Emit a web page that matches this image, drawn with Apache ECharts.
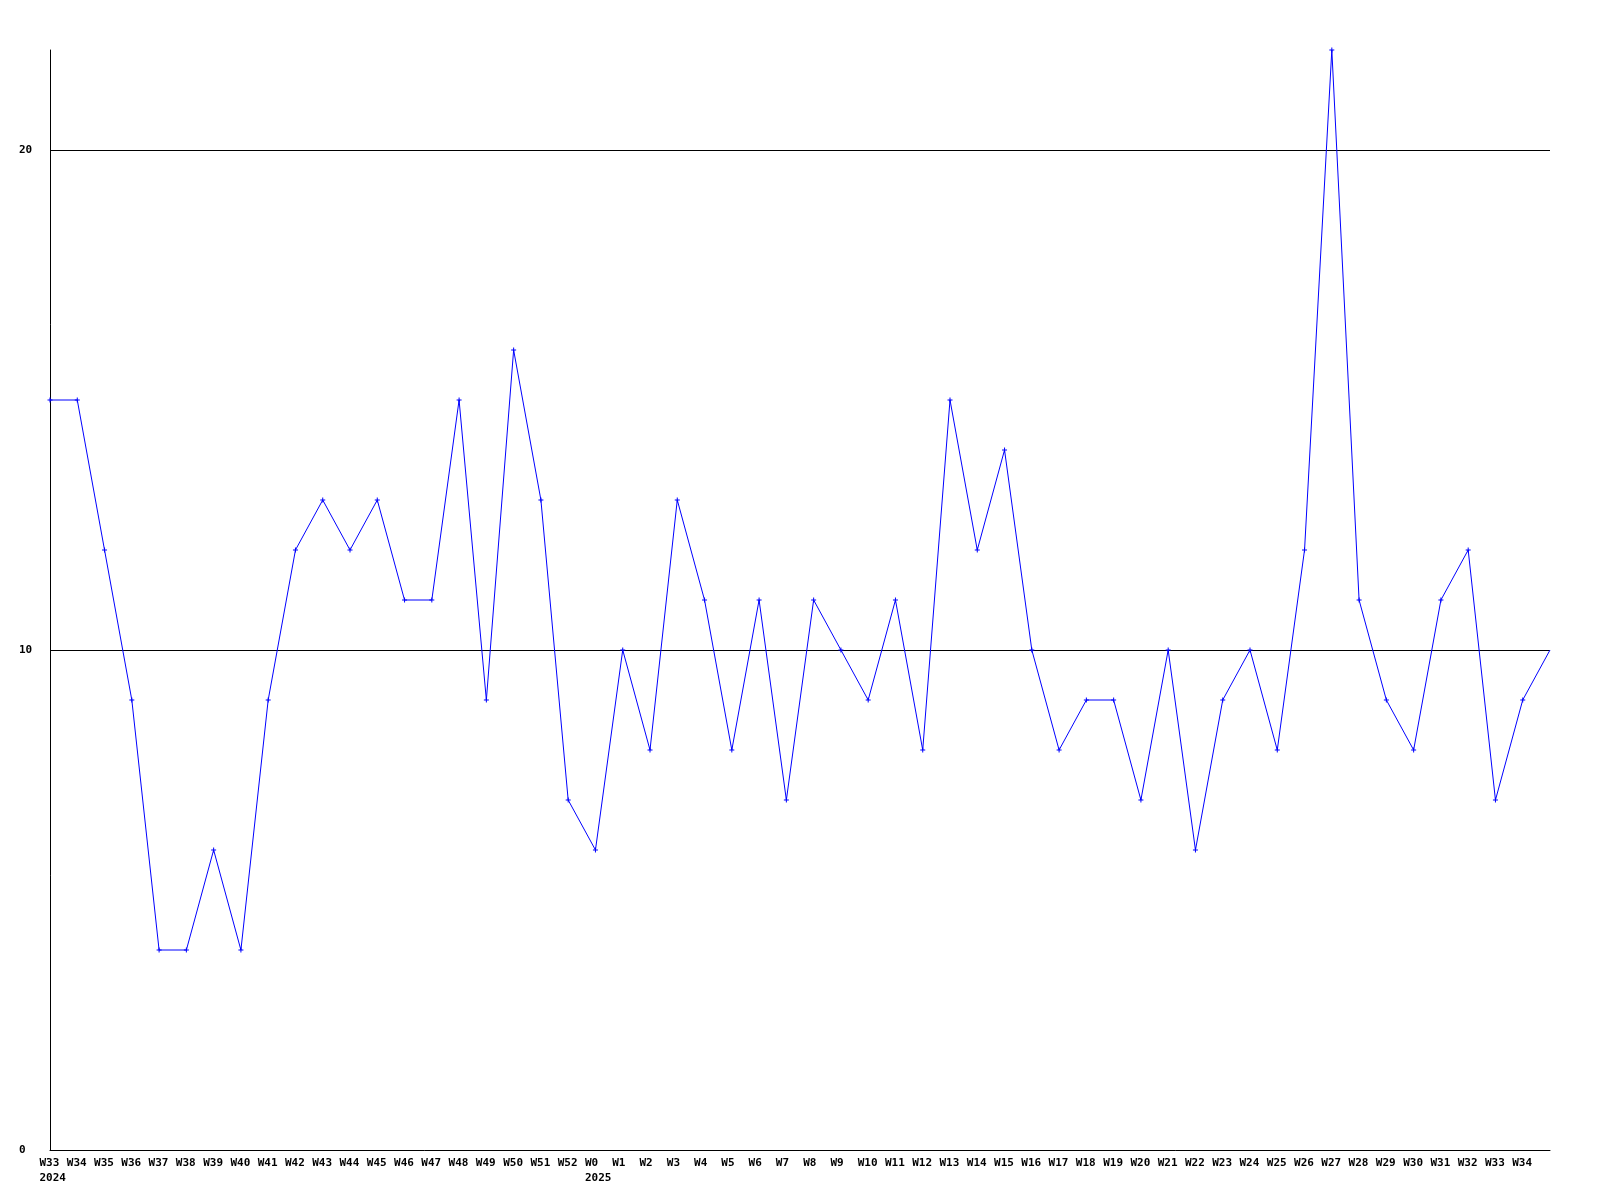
<!DOCTYPE html>
<html>
<head>
<meta charset="utf-8">
<script src="https://cdn.jsdelivr.net/npm/echarts@6/dist/echarts.min.js"></script>
<style>html,body{margin:0;padding:0;background:#fff}#c{width:1600px;height:1200px}</style>
</head>
<body>
<div id="c"></div>
<script>
const weeks = ['W33','W34','W35','W36','W37','W38','W39','W40','W41','W42','W43','W44','W45','W46','W47','W48','W49','W50','W51','W52',
  'W0','W1','W2','W3','W4','W5','W6','W7','W8','W9','W10','W11','W12','W13','W14','W15','W16','W17','W18','W19','W20','W21','W22','W23','W24','W25','W26','W27','W28','W29','W30','W31','W32','W33','W34',''];
const years = {0:'2024', 20:'2025'};
const values = [15,15,12,9,4,4,6,4,9,12,13,12,13,11,11,15,9,16,13,7,
  6,10,8,13,11,8,11,7,11,10,9,11,8,15,12,14,10,8,9,9,7,10,6,9,10,8,12,22,11,9,8,11,12,7,9,10];
const yTicks = [0,10,20];

const chart = echarts.init(document.getElementById('c'));
const font = 'DejaVu Sans Mono';
chart.setOption({
  animation:false,
  backgroundColor:'#fff',
  grid:{left:50,right:50,top:50,bottom:50},
  xAxis:{
    type:'category',
    data:weeks.map((w,i)=>({value:String(i)})),
    boundaryGap:false,
    axisLine:{lineStyle:{color:'#000',width:1}},
    axisTick:{show:false},
    splitLine:{show:false},
    axisLabel:{
      interval:0,margin:6,
      fontFamily:font,fontWeight:'bold',fontSize:11,color:'#000',lineHeight:15,
      formatter:(v)=>{const i=+v; const w=weeks[i]; if(!w) return ''; return years[i]!==undefined ? '{a|'+w+'}\n{a|'+years[i]+'}' : '{a|'+w+'}';},
      rich:{a:{width:21,align:'left',fontFamily:font,fontWeight:'bold',fontSize:11,color:'#000',lineHeight:15}}
    }
  },
  yAxis:{
    type:'value',min:0,max:22,interval:10,
    axisLine:{show:true,lineStyle:{color:'#000',width:1}},
    axisTick:{show:false},
    splitLine:{show:true,showMaxLine:false,showMinLine:false,lineStyle:{color:'#000',width:1}},
    axisLabel:{
      margin:31,align:'left',showMaxLabel:false,
      fontFamily:font,fontWeight:'bold',fontSize:11,color:'#000',
      formatter:(v)=> yTicks.includes(v)?String(v):''
    }
  },
  series:[{
    type:'line',
    data:values.map((v,i)=> i===values.length-1 ? {value:v,symbol:'none'} : v),
    lineStyle:{color:'#0000ff',width:1},
    itemStyle:{color:'#0000ff'},
    symbol:'path://M2,0H3V2H5V3H3V5H2V3H0V2H2Z',
    symbolSize:5,
    showSymbol:true
  }]
});
</script>
</body>
</html>
